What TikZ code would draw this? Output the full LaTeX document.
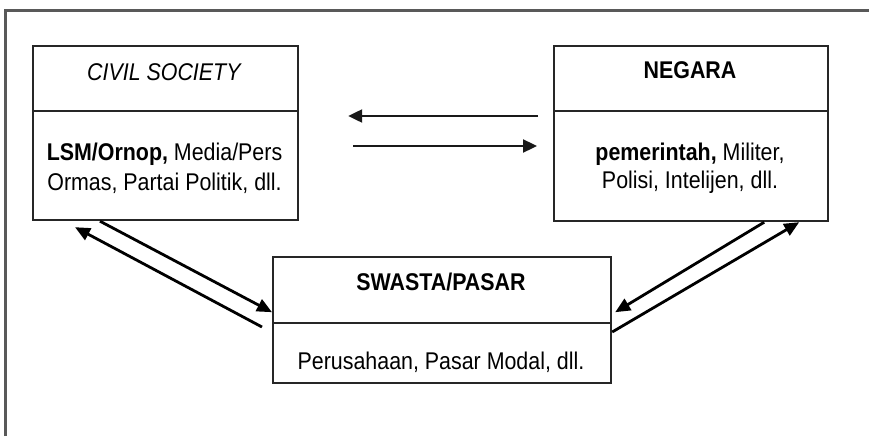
\documentclass[tikz,border=0pt]{standalone}
\usepackage{fontspec}
\setmainfont{Liberation Sans}
\usepackage{graphicx}
\usetikzlibrary{arrows.meta}
\newcommand{\vs}[1]{\scalebox{1}[1.13]{#1}}
\begin{document}
\begin{tikzpicture}[x=1pt,y=-1pt,
  part/.style={draw=black!85,line width=2.2pt,minimum width=#1,inner sep=0pt,anchor=north west},
  txt/.style={anchor=base,inner sep=0pt,font=\fontsize{21.4}{26}\selectfont},
  arr/.style={line width=2.8pt,-{Triangle[length=15pt,width=13pt]}},
  harr/.style={line width=2.3pt,draw=black!90,-{Triangle[length=14pt,width=13pt]}}]
\useasboundingbox (0,0) rectangle (869,436);
\draw[line width=3pt,black!65] (5,436) -- (5,11) -- (869,11);
% CIVIL SOCIETY
\node[part=265pt,minimum height=65pt] (cst) at (32,45) {};
\node[part=265pt,minimum height=109pt] (csb) at (32,110) {};
% NEGARA
\node[part=274pt,minimum height=65pt] (ngt) at (553,45) {};
\node[part=274pt,minimum height=110pt] (ngb) at (553,110) {};
% SWASTA
\node[part=338pt,minimum height=66pt] (swt) at (272,256) {};
\node[part=338pt,minimum height=60pt] (swb) at (272,322) {};
% texts
\node[txt] (cs1) at (164.5,81) {\vs{\textit{CIVIL SOCIETY}}};
\node[txt] (cs2) at (164.5,160) {\vs{\textbf{LSM/Ornop,} Media/Pers}};
\node[txt] (cs3) at (164.5,190) {\vs{Ormas, Partai Politik, dll.}};
\node[txt] (ng1) at (690,78) {\vs{\textbf{NEGARA}}};
\node[txt] (ng2) at (690,160) {\vs{\textbf{pemerintah,} Militer,}};
\node[txt] (ng3) at (690,188) {\vs{Polisi, Intelijen, dll.}};
\node[txt] (sw1) at (441,290) {\vs{\textbf{SWASTA/PASAR}}};
\node[txt] (sw2) at (441,369) {\vs{Perusahaan, Pasar Modal, dll.}};
% horizontal arrows
\draw[harr] ([xshift=-15pt,yshift=-6pt]ngb.north west) -- ([xshift=49pt,yshift=-6pt]csb.north east);
\draw[harr] ([xshift=54pt,yshift=-36pt]csb.north east) -- ([xshift=-16pt,yshift=-36pt]ngb.north west);
% diagonal arrows
\draw[arr] ([xshift=-10pt,yshift=-5pt]swb.north west) -- ([xshift=43pt,yshift=-6pt]csb.south west);
\draw[arr] ([xshift=68pt]csb.south west) -- ([yshift=12pt]swt.south west);
\draw[arr] ([xshift=-65pt]ngb.south east) -- ([xshift=3pt,yshift=12pt]swt.south east);
\draw[arr] ([yshift=-10pt]swb.north east) -- ([xshift=-30pt]ngb.south east);
\end{tikzpicture}
\end{document}
